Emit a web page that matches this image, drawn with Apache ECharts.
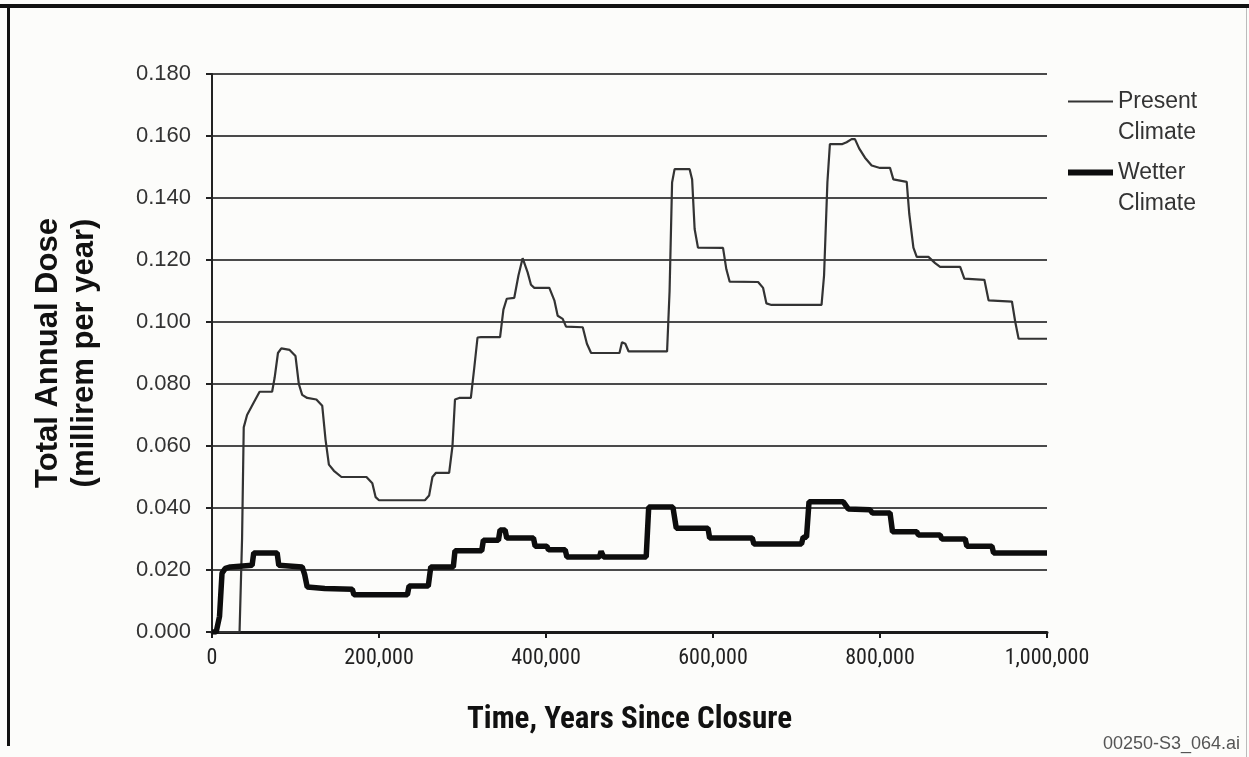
<!DOCTYPE html>
<html>
<head>
<meta charset="utf-8">
<script src="https://cdn.jsdelivr.net/npm/echarts@6/dist/echarts.min.js"></script>
<style>
html,body{margin:0;padding:0;background:#fcfcfa;}
#chart{width:1249px;height:757px;}
</style>
</head>
<body>
<div id="chart"></div>
<script>
// ---- data ----
const seriesNames = ['Present Climate', 'Wetter Climate'];
const xTicks = [0, 200000, 400000, 600000, 800000, 1000000];
const yTicks = [0, 0.02, 0.04, 0.06, 0.08, 0.10, 0.12, 0.14, 0.16, 0.18];

const presentYears = [0, 33000, 36000, 38000, 42000, 50000, 57000, 72000, 75000, 79000, 83000, 93000, 100000, 104000, 108000, 114000, 125000, 132000, 136000, 140000, 146000, 155000, 185000, 192000, 196000, 200000, 255000, 260000, 264000, 268000, 284000, 288000, 291000, 296000, 310000, 314000, 318000, 322000, 345000, 349000, 353000, 362000, 367000, 372000, 378000, 382000, 386000, 404000, 410000, 414000, 420000, 424000, 444000, 449000, 454000, 488000, 491000, 495000, 499000, 545000, 548000, 551000, 554000, 572000, 575000, 578000, 582000, 612000, 616000, 620000, 654000, 660000, 664000, 670000, 730000, 733000, 737000, 740000, 755000, 760000, 766000, 770000, 775000, 782000, 790000, 800000, 812000, 816000, 832000, 835000, 840000, 844000, 858000, 866000, 872000, 896000, 901000, 925000, 930000, 958000, 962000, 966000, 1000000];
const presentDose = [0, 0, 0.030, 0.066, 0.070, 0.074, 0.0775, 0.0775, 0.082, 0.090, 0.0915, 0.091, 0.089, 0.080, 0.0765, 0.0755, 0.075, 0.073, 0.062, 0.054, 0.052, 0.050, 0.050, 0.048, 0.0435, 0.0425, 0.0425, 0.044, 0.050, 0.0513, 0.0513, 0.060, 0.075, 0.0755, 0.0755, 0.085, 0.095, 0.0951, 0.0951, 0.104, 0.1075, 0.1078, 0.115, 0.1206, 0.116, 0.112, 0.111, 0.111, 0.107, 0.102, 0.101, 0.0985, 0.0983, 0.093, 0.090, 0.090, 0.0935, 0.093, 0.0905, 0.0905, 0.110, 0.145, 0.1493, 0.1493, 0.146, 0.130, 0.124, 0.1239, 0.117, 0.113, 0.1129, 0.111, 0.106, 0.1055, 0.1055, 0.115, 0.145, 0.1574, 0.1574, 0.158, 0.159, 0.159, 0.156, 0.153, 0.1505, 0.1497, 0.1497, 0.146, 0.1452, 0.135, 0.124, 0.121, 0.121, 0.119, 0.1178, 0.1178, 0.114, 0.1136, 0.107, 0.1066, 0.100, 0.0946, 0.0946];

const wetterYears = [0, 5000, 9000, 12000, 16000, 22000, 48000, 50000, 78000, 80000, 108000, 111000, 114000, 135000, 168000, 170000, 234000, 236000, 259000, 262000, 289000, 291000, 323000, 325000, 343000, 345000, 351000, 353000, 385000, 387000, 401000, 403000, 423000, 425000, 464000, 466000, 469000, 520000, 523000, 552000, 556000, 594000, 596000, 647000, 649000, 706000, 708000, 712000, 715000, 756000, 762000, 788000, 791000, 812000, 815000, 844000, 846000, 872000, 874000, 902000, 904000, 934000, 936000, 1000000];
const wetterDose = [0, 0, 0.005, 0.019, 0.0205, 0.021, 0.0215, 0.0255, 0.0255, 0.0215, 0.021, 0.0185, 0.0145, 0.014, 0.0138, 0.012, 0.012, 0.0148, 0.0148, 0.021, 0.021, 0.0262, 0.0262, 0.0296, 0.0296, 0.0329, 0.0329, 0.0303, 0.0303, 0.0277, 0.0277, 0.0265, 0.0265, 0.0242, 0.0242, 0.026, 0.0242, 0.0242, 0.0403, 0.0403, 0.0335, 0.0335, 0.0303, 0.0303, 0.0284, 0.0284, 0.0306, 0.0306, 0.042, 0.042, 0.0397, 0.0394, 0.0384, 0.0384, 0.0323, 0.0323, 0.0313, 0.0313, 0.030, 0.030, 0.0277, 0.0277, 0.0255, 0.0255];

const xTitle = 'Time, Years Since Closure';
const yTitle = 'Total Annual Dose\n(millirem per year)';
const footer = '00250-S3_064.ai';

// ---- chart ----
const narrow = "'Liberation Sans Narrow', 'Arial Narrow', 'Roboto Condensed', 'Liberation Sans', Arial, sans-serif";
const sans = "'Liberation Sans', Arial, Helvetica, sans-serif";
const zip = (xs, ys) => xs.map((x, i) => [x, ys[i]]);
const presentColor = '#333';
const wetterColor = '#0d0d0d';

// leading blank line keeps the icon level with the first text line
const legendFormatter = n => '\n' + n.replace(' ', '\n');
const legendText = {fontFamily: sans, fontSize: 23, lineHeight: 31, color: '#333'};

const chart = echarts.init(document.getElementById('chart'), null, {renderer: 'canvas'});
chart.setOption({
  backgroundColor: '#fcfcfa',
  animation: false,
  grid: {left: 212, right: 202, top: 74, bottom: 125, containLabel: false},
  legend: [
    {
      orient: 'vertical', left: 1063, top: 50,
      itemWidth: 45, itemHeight: 2, icon: 'rect', itemGap: 0,
      data: [seriesNames[0]],
      formatter: legendFormatter,
      itemStyle: {color: presentColor},
      textStyle: legendText
    },
    {
      orient: 'vertical', left: 1063, top: 121,
      itemWidth: 45, itemHeight: 6, icon: 'rect', itemGap: 0,
      data: [seriesNames[1]],
      formatter: legendFormatter,
      itemStyle: {color: wetterColor},
      textStyle: legendText
    }
  ],
  xAxis: {
    type: 'value',
    min: xTicks[0],
    max: xTicks[xTicks.length - 1],
    interval: xTicks[1] - xTicks[0],
    name: xTitle,
    nameLocation: 'middle',
    nameGap: 73,
    nameTextStyle: {fontFamily: narrow, fontSize: 31, fontWeight: 'bold', color: '#111'},
    axisLine: {lineStyle: {color: '#1a1a1a', width: 3}},
    axisTick: {show: true, length: 6, inside: false, lineStyle: {color: '#1a1a1a', width: 2}},
    axisLabel: {margin: 15, fontFamily: narrow, fontSize: 22, color: '#222',
      formatter: v => v.toLocaleString('en-US')},
    splitLine: {show: false}
  },
  yAxis: {
    type: 'value',
    min: yTicks[0],
    max: yTicks[yTicks.length - 1],
    interval: yTicks[1] - yTicks[0],
    name: yTitle,
    nameLocation: 'middle',
    nameGap: 110,
    nameTextStyle: {fontFamily: sans, fontSize: 31, fontWeight: 'bold', color: '#111', lineHeight: 36},
    axisLine: {show: true, lineStyle: {color: '#222', width: 2}},
    axisTick: {show: true, length: 6, inside: false, lineStyle: {color: '#222', width: 2}},
    axisLabel: {margin: 21, fontFamily: sans, fontSize: 22, color: '#333',
      formatter: v => v.toFixed(3)},
    splitLine: {show: true, lineStyle: {color: '#4a4a4a', width: 2}}
  },
  series: [
    {
      name: seriesNames[0], type: 'line', data: zip(presentYears, presentDose),
      symbol: 'none', showSymbol: false, smooth: false,
      lineStyle: {color: presentColor, width: 2.2}, itemStyle: {color: presentColor}, z: 3
    },
    {
      name: seriesNames[1], type: 'line', data: zip(wetterYears, wetterDose),
      symbol: 'none', showSymbol: false, smooth: false,
      lineStyle: {color: wetterColor, width: 5.5}, itemStyle: {color: wetterColor}, z: 4
    }
  ],
  graphic: [
    {type: 'rect', shape: {x: 0, y: 4, width: 1249, height: 4}, style: {fill: '#111'}, silent: true},
    {type: 'rect', shape: {x: 7, y: 4, width: 3, height: 742}, style: {fill: '#111'}, silent: true},
    {type: 'rect', shape: {x: 1246, y: 8, width: 1, height: 749}, style: {fill: '#bbb'}, silent: true},
    {type: 'text', right: 9, top: 735, style: {text: footer, fontFamily: sans, fontSize: 18, fill: '#555'}}
  ]
});
</script>
</body>
</html>
